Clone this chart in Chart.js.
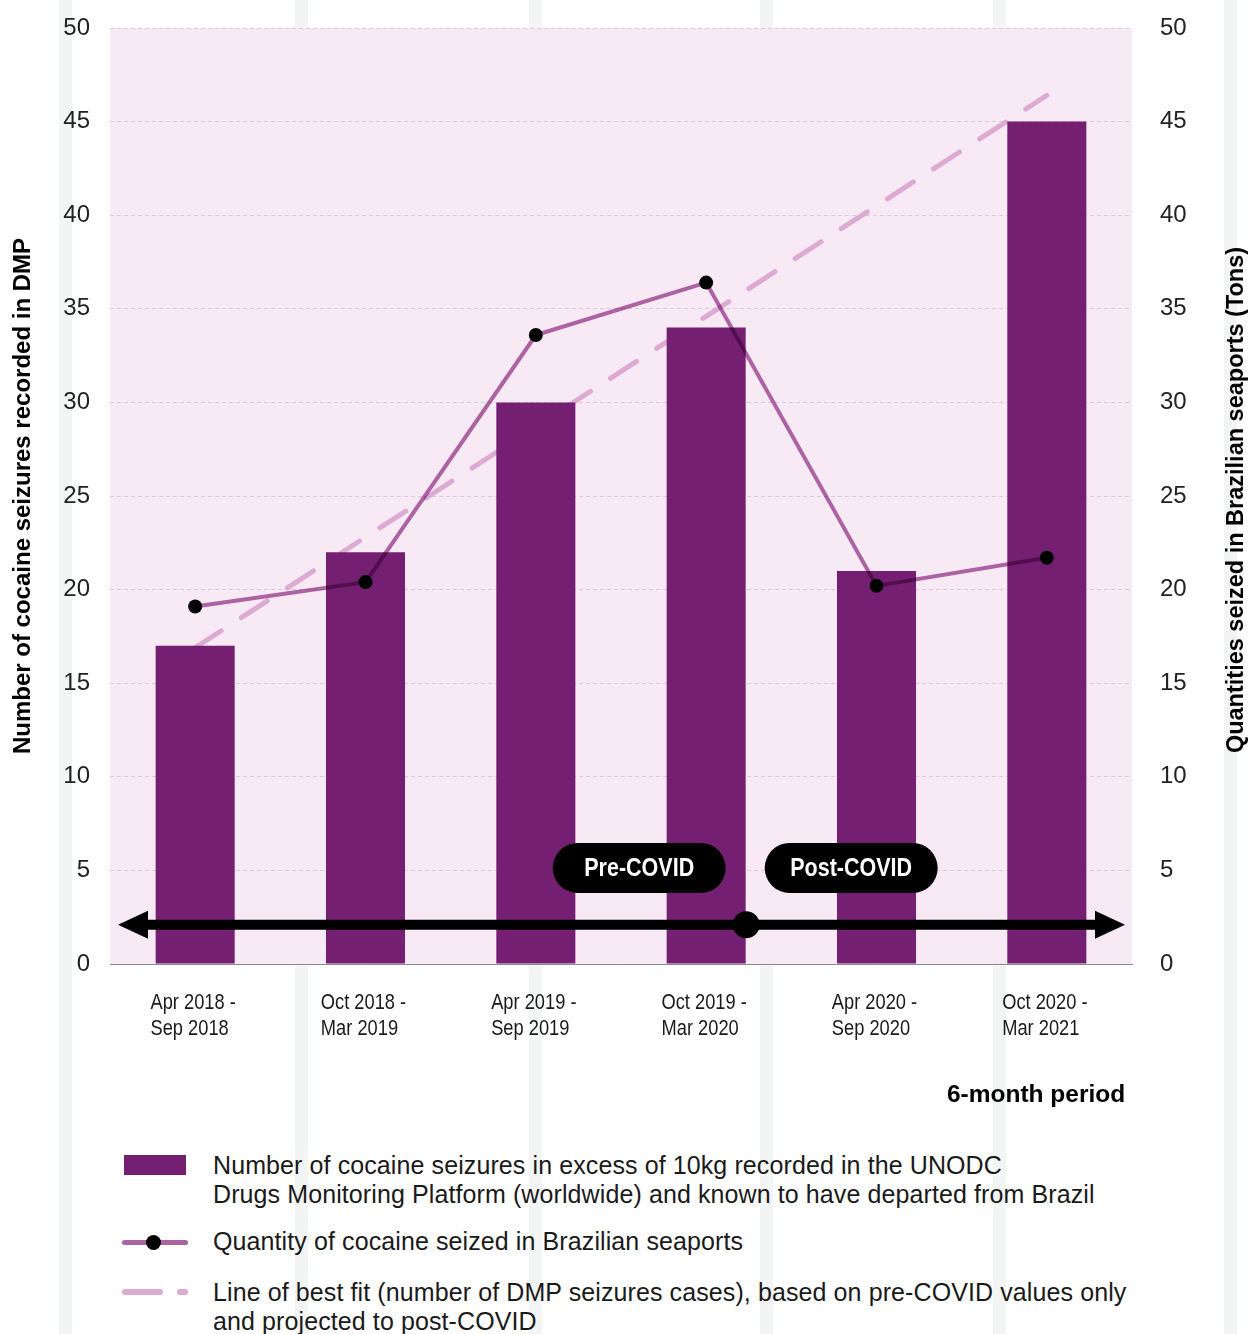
<!DOCTYPE html>
<html><head><meta charset="utf-8">
<script src="https://cdn.jsdelivr.net/npm/chart.js@4.4.1/dist/chart.umd.min.js"></script>
<style>
body{margin:0;background:#fff;}
#wrap{position:relative;width:1248px;height:1334px;overflow:hidden;}
.stripe{position:absolute;top:0;height:1334px;width:13px;background:#f3f4f4;}
canvas{position:absolute;left:0;top:0;}
.leg{position:absolute;left:213px;font-family:'Liberation Sans',Arial,sans-serif;font-size:25px;letter-spacing:0.1px;color:#1a1a1a;line-height:29px;white-space:nowrap;}
.sym{position:absolute;}
</style></head>
<body>
<div id="wrap">
  <div class="stripe" style="left:59px"></div>
  <div class="stripe" style="left:295px"></div>
  <div class="stripe" style="left:529px"></div>
  <div class="stripe" style="left:760px"></div>
  <div class="stripe" style="left:993px"></div>
  <div class="stripe" style="left:1224px"></div>
  <canvas id="c" width="1248" height="1114"></canvas>
  <div class="sym" style="left:124px;top:1155px;width:62px;height:20px;background:#751f72"></div>
  <div class="leg" id="l1" style="top:1151px">Number of cocaine seizures in excess of 10kg recorded in the UNODC<br>Drugs Monitoring Platform (worldwide) and known to have departed from Brazil</div>
  <div class="sym" style="left:122px;top:1240px;width:66px;height:5px;border-radius:3px;background:#ad62a3"></div>
  <div class="sym" style="left:146px;top:1235px;width:15px;height:15px;border-radius:50%;background:#000"></div>
  <div class="leg" id="l2" style="top:1227px">Quantity of cocaine seized in Brazilian seaports</div>
  <div class="sym" style="left:122px;top:1289px;width:41px;height:6px;border-radius:3px;background:#dcaad3"></div>
  <div class="sym" style="left:177px;top:1289px;width:11px;height:6px;border-radius:3px;background:#dcaad3"></div>
  <div class="leg" id="l3" style="top:1278px">Line of best fit (number of DMP seizures cases), based on pre-COVID values only<br>and projected to post-COVID</div>
</div>
<script>
const categories = [
  ['Apr 2018 -', 'Sep 2018'],
  ['Oct 2018 -', 'Mar 2019'],
  ['Apr 2019 -', 'Sep 2019'],
  ['Oct 2019 -', 'Mar 2020'],
  ['Apr 2020 -', 'Sep 2020'],
  ['Oct 2020 -', 'Mar 2021']
];
const dmpSeizures = [17, 22, 30, 34, 21, 45];
const seaportTons = [19.1, 20.4, 33.6, 36.4, 20.2, 21.7];
const bestFit = [16.9, 22.8, 28.7, 34.6, 40.5, 46.4];
const yTicks = [0, 5, 10, 15, 20, 25, 30, 35, 40, 45, 50];
const periodLabels = ['Pre-COVID', 'Post-COVID'];
const covidSplitIndex = 3.235;
const timelineValue = 2.1;
const pillValue = 5.13;

const PINK = '#f8eaf4';
const BAR = '#751f72';
const LINE = '#b26bab';
const FIT = '#dcaad3';
const sans = "'Liberation Sans',Arial,sans-serif";

const bgPlugin = {
  id: 'bg',
  beforeDraw(chart) {
    const {ctx, chartArea: a} = chart;
    ctx.save();
    ctx.fillStyle = PINK;
    ctx.fillRect(a.left, a.top, a.right - a.left, a.bottom - a.top);
    ctx.restore();
  }
};

const blendPlugin = {
  id: 'blend',
  beforeDatasetDraw(chart, args) {
    if (args.index === 1) { chart.ctx.save(); chart.ctx.globalCompositeOperation = 'multiply'; }
  },
  afterDatasetDraw(chart, args) {
    if (args.index === 1) chart.ctx.restore();
  }
};

// condensed x tick labels, placed at the category scale's tick positions
const xLabelPlugin = {
  id: 'xlabels',
  afterDraw(chart) {
    const {ctx, scales} = chart;
    const sx = 0.85;
    ctx.save();
    ctx.font = '21.5px ' + sans;
    ctx.fillStyle = '#1a1a1a';
    ctx.textBaseline = 'middle';
    ctx.textAlign = 'left';
    scales.x.ticks.forEach((t, i) => {
      const x = scales.x.getPixelForTick(i);
      const lines = categories[i];
      const bw = Math.max(...lines.map(l => ctx.measureText(l).width)) * sx;
      lines.forEach((l, j) => {
        ctx.save();
        ctx.translate(x - bw / 2 - 2, scales.x.top + 39 + j * 26);
        ctx.scale(sx, 1);
        ctx.fillText(l, 0, 0);
        ctx.restore();
      });
    });
    ctx.restore();
  }
};

const timelinePlugin = {
  id: 'timeline',
  afterDatasetsDraw(chart) {
    const {ctx, chartArea: a, scales} = chart;
    const y = scales.y.getPixelForValue(timelineValue);
    const xs = scales.x.getPixelForValue(covidSplitIndex);
    const x0 = a.left + 8, x1 = a.right - 7;
    ctx.save();
    ctx.fillStyle = '#000';
    ctx.strokeStyle = '#000';
    ctx.lineWidth = 10;
    ctx.beginPath(); ctx.moveTo(x0 + 25, y); ctx.lineTo(x1 - 25, y); ctx.stroke();
    ctx.beginPath(); ctx.moveTo(x0, y); ctx.lineTo(x0 + 30, y - 14); ctx.lineTo(x0 + 30, y + 14); ctx.closePath(); ctx.fill();
    ctx.beginPath(); ctx.moveTo(x1, y); ctx.lineTo(x1 - 30, y - 14); ctx.lineTo(x1 - 30, y + 14); ctx.closePath(); ctx.fill();
    ctx.beginPath(); ctx.arc(xs, y, 13.5, 0, Math.PI * 2); ctx.fill();
    const py = scales.y.getPixelForValue(pillValue);
    const w = 173, h = 50, r = 25;
    [[xs - 107, periodLabels[0]], [xs + 105, periodLabels[1]]].forEach(([cx, t]) => {
      ctx.fillStyle = '#000';
      ctx.beginPath();
      ctx.roundRect(cx - w / 2, py - h / 2, w, h, r);
      ctx.fill();
      ctx.save();
      ctx.translate(cx, py + 1);
      ctx.scale(0.86, 1);
      ctx.fillStyle = '#fff';
      ctx.font = 'bold 25px ' + sans;
      ctx.textAlign = 'center';
      ctx.textBaseline = 'middle';
      ctx.fillText(t, 0, 0);
      ctx.restore();
    });
    ctx.restore();
  }
};

const rightTitlePlugin = {
  id: 'rtitle',
  afterDraw(chart) {
    const {ctx} = chart;
    ctx.save();
    ctx.translate(1237, 500);
    ctx.rotate(-Math.PI / 2);
    ctx.font = 'bold 23.5px ' + sans;
    ctx.fillStyle = '#000';
    ctx.textAlign = 'center';
    ctx.textBaseline = 'middle';
    ctx.fillText('Quantities seized in Brazilian seaports (Tons)', 0, 0);
    ctx.restore();
  }
};

new Chart(document.getElementById('c'), {
  data: {
    labels: categories,
    datasets: [
      {
        type: 'bar', label: 'DMP seizures', data: dmpSeizures, yAxisID: 'y',
        backgroundColor: BAR, borderWidth: 0, order: 2,
        categoryPercentage: 1, barPercentage: 0.464
      },
      {
        type: 'line', label: 'Seaport tons', data: seaportTons, yAxisID: 'y1',
        borderColor: LINE, borderWidth: 4, tension: 0, order: 1,
        pointRadius: 7, pointBackgroundColor: '#000', pointBorderWidth: 0
      },
      {
        type: 'line', label: 'Best fit', data: bestFit, yAxisID: 'y',
        borderColor: FIT, borderWidth: 5, borderDash: [31, 24], borderCapStyle: 'round',
        pointRadius: 0, tension: 0, order: 3
      }
    ]
  },
  options: {
    responsive: false,
    animation: false,
    events: [],
    layout: { padding: { top: 28, left: 0, right: 0, bottom: 0 } },
    plugins: { legend: { display: false }, tooltip: { enabled: false } },
    scales: {
      x: {
        grid: { display: false, drawTicks: false },
        border: { display: true, color: '#8a8a8a', width: 1 },
        ticks: {
          color: 'rgba(0,0,0,0)', padding: 26, maxRotation: 0, autoSkip: false,
          font: { family: sans, size: 21, lineHeight: 1.25 }
        },
        title: {
          display: true, text: '6-month period ', align: 'end', color: '#000',
          font: { family: sans, size: 24.5, weight: 'bold' }, padding: { top: 0, bottom: 4 }
        },
        afterFit(s) { s.height = 150; }
      },
      y: {
        position: 'left', min: 0, max: 50,
        afterBuildTicks(s) { s.ticks = yTicks.map(v => ({ value: v })); },
        grid: { color: 'rgba(190,175,185,0.55)', lineWidth: 1, drawTicks: true, tickLength: 7, tickColor: 'rgba(0,0,0,0)' },
        border: { display: false, dash: [4, 3] },
        ticks: { color: '#222', padding: 13, font: { family: sans, size: 24 } },
        title: {
          display: true, text: 'Number of cocaine seizures recorded in DMP', color: '#000',
          font: { family: sans, size: 24, weight: 'bold' }, padding: { top: 9, bottom: 0 }
        },
        afterFit(s) { s.width = 110; }
      },
      y1: {
        position: 'right', min: 0, max: 50,
        afterBuildTicks(s) { s.ticks = yTicks.map(v => ({ value: v })); },
        grid: { display: true, drawOnChartArea: false, drawTicks: true, tickLength: 15, tickColor: 'rgba(0,0,0,0)' },
        border: { display: false },
        ticks: { color: '#222', padding: 13, font: { family: sans, size: 24 } },
        afterFit(s) { s.width = 116; }
      }
    }
  },
  plugins: [bgPlugin, blendPlugin, xLabelPlugin, timelinePlugin, rightTitlePlugin]
});
</script>
</body></html>
